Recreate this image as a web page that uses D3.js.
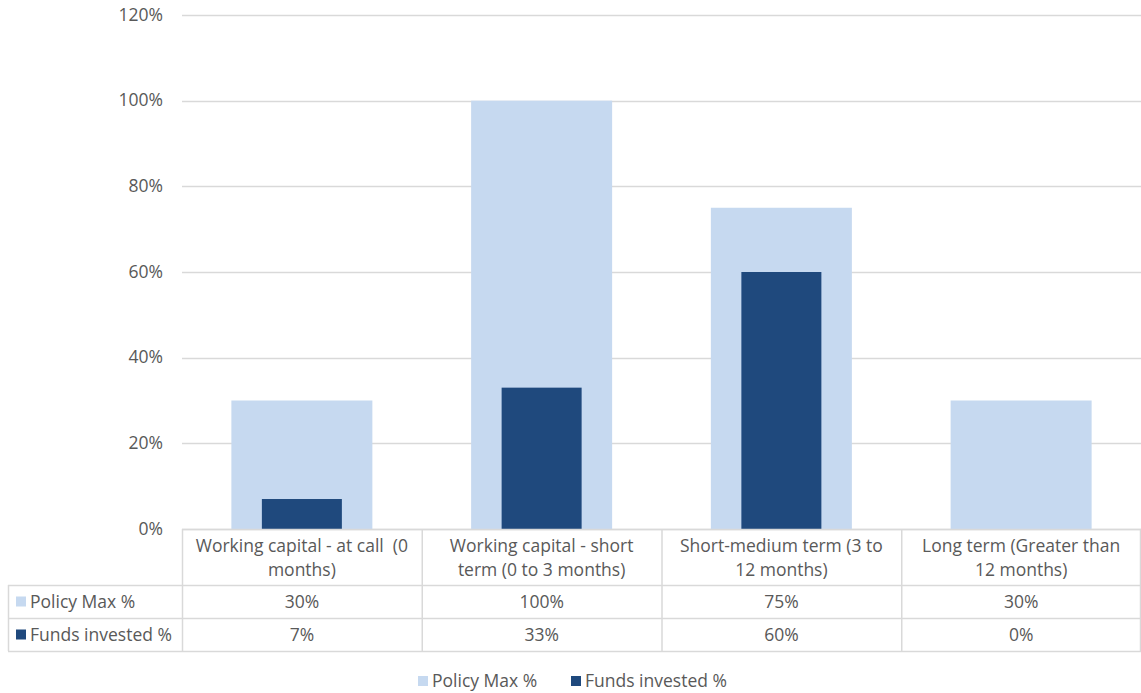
<!DOCTYPE html>
<html><head><meta charset="utf-8">
<script src="https://cdn.jsdelivr.net/npm/d3@7"></script>
<style>
html,body{margin:0;padding:0;background:#fff;}
text{font-family:"Open Sans",Lato,sans-serif;fill:#595959;white-space:pre;}
</style></head>
<body><svg id="c" width="1141" height="693"></svg>
<script>
const categories = [
  ["Working capital - at call  (0", "months)"],
  ["Working capital - short", "term (0 to 3 months)"],
  ["Short-medium term (3 to", "12 months)"],
  ["Long term (Greater than", "12 months)"]
];
const seriesNames = ["Policy Max %", "Funds invested %"];
const policyMax = [30, 100, 75, 30];
const fundsInvested = [7, 33, 60, 0];
const yTicks = [0, 20, 40, 60, 80, 100, 120];
const colors = ["#c6d9f0", "#1f497d"];

(function(){
const svg = d3.select("#c");
const pLeft = 182, pRight = 1141, pTop = 15, pBottom = 529;
const x = d3.scaleBand().domain(d3.range(categories.length)).range([pLeft, pRight]).paddingInner(0).paddingOuter(0);
const y = d3.scaleLinear().domain([0, 120]).range([pBottom, pTop]);
const fsize = 17.5;

svg.append("g").selectAll("line").data(yTicks).join("line")
  .attr("x1", pLeft).attr("x2", pRight)
  .attr("y1", d => Math.round(y(d)) + 0.5).attr("y2", d => Math.round(y(d)) + 0.5)
  .attr("stroke", "#d9d9d9").attr("stroke-width", 1.3);

const yAxis = d3.axisLeft(y).tickValues(yTicks).tickFormat(d => d + "%").tickSize(0).tickPadding(0);
const ya = svg.append("g").attr("transform", `translate(163,0)`).call(yAxis);
ya.select(".domain").remove();
ya.selectAll("text").attr("font-size", fsize).attr("fill", "#404040").style("font-family", "'Open Sans'").attr("dy", "0.3em");

const bw = x.bandwidth();
const wideW = 141, narrowW = 80;
svg.append("g").selectAll("rect").data(policyMax).join("rect")
  .attr("x", (d, i) => x(i) + bw / 2 - wideW / 2)
  .attr("width", wideW)
  .attr("y", d => y(d)).attr("height", d => y(0) - y(d))
  .attr("fill", colors[0]);
svg.append("g").selectAll("rect").data(fundsInvested).join("rect")
  .attr("x", (d, i) => x(i) + bw / 2 - narrowW / 2)
  .attr("width", narrowW)
  .attr("y", d => y(d)).attr("height", d => y(0) - y(d))
  .attr("fill", colors[1]);

const tbl = svg.append("g");
const rowY = [529, 585, 618, 651];
const tableLeft = 8;
const gc = "#d9d9d9";
tbl.append("line").attr("x1", pLeft).attr("x2", pRight).attr("y1", rowY[0] + 0.5).attr("y2", rowY[0] + 0.5).attr("stroke", gc).attr("stroke-width", 1.5);
[rowY[1], rowY[2], rowY[3]].forEach(yy => {
  tbl.append("line").attr("x1", tableLeft).attr("x2", pRight).attr("y1", yy + 0.5).attr("y2", yy + 0.5).attr("stroke", gc).attr("stroke-width", 1.5);
});
tbl.append("line").attr("x1", tableLeft + 0.5).attr("x2", tableLeft + 0.5).attr("y1", rowY[1]).attr("y2", rowY[3]).attr("stroke", gc).attr("stroke-width", 1.5);
d3.range(categories.length + 1).forEach(i => {
  const xx = i < categories.length ? x(i) : pRight - 1;
  tbl.append("line").attr("x1", xx + 0.5).attr("x2", xx + 0.5).attr("y1", rowY[0]).attr("y2", rowY[3]).attr("stroke", gc).attr("stroke-width", 1.5);
});
categories.forEach((c, i) => {
  c.forEach((line, j) => {
    tbl.append("text").attr("x", x(i) + bw / 2).attr("y", 552 + j * 24)
      .attr("text-anchor", "middle").attr("font-size", fsize).text(line);
  });
});
const rows = [policyMax, fundsInvested];
rows.forEach((vals, r) => {
  const cy = (rowY[r + 1] + rowY[r + 2]) / 2 + 6;
  tbl.append("rect").attr("x", 16).attr("y", cy - 11).attr("width", 10).attr("height", 10).attr("fill", colors[r]);
  tbl.append("text").attr("x", 30).attr("y", cy).attr("font-size", fsize).text(seriesNames[r]);
  vals.forEach((v, i) => {
    tbl.append("text").attr("x", x(i) + bw / 2).attr("y", cy).attr("text-anchor", "middle").attr("font-size", fsize).text(v + "%");
  });
});

const lg = svg.append("g");
const legendX = [418, 571];
seriesNames.forEach((n, i) => {
  lg.append("rect").attr("x", legendX[i]).attr("y", 676).attr("width", 10).attr("height", 10).attr("fill", colors[i]);
  lg.append("text").attr("x", legendX[i] + 14).attr("y", 687).attr("font-size", fsize).text(n);
});
})();
</script></body></html>
